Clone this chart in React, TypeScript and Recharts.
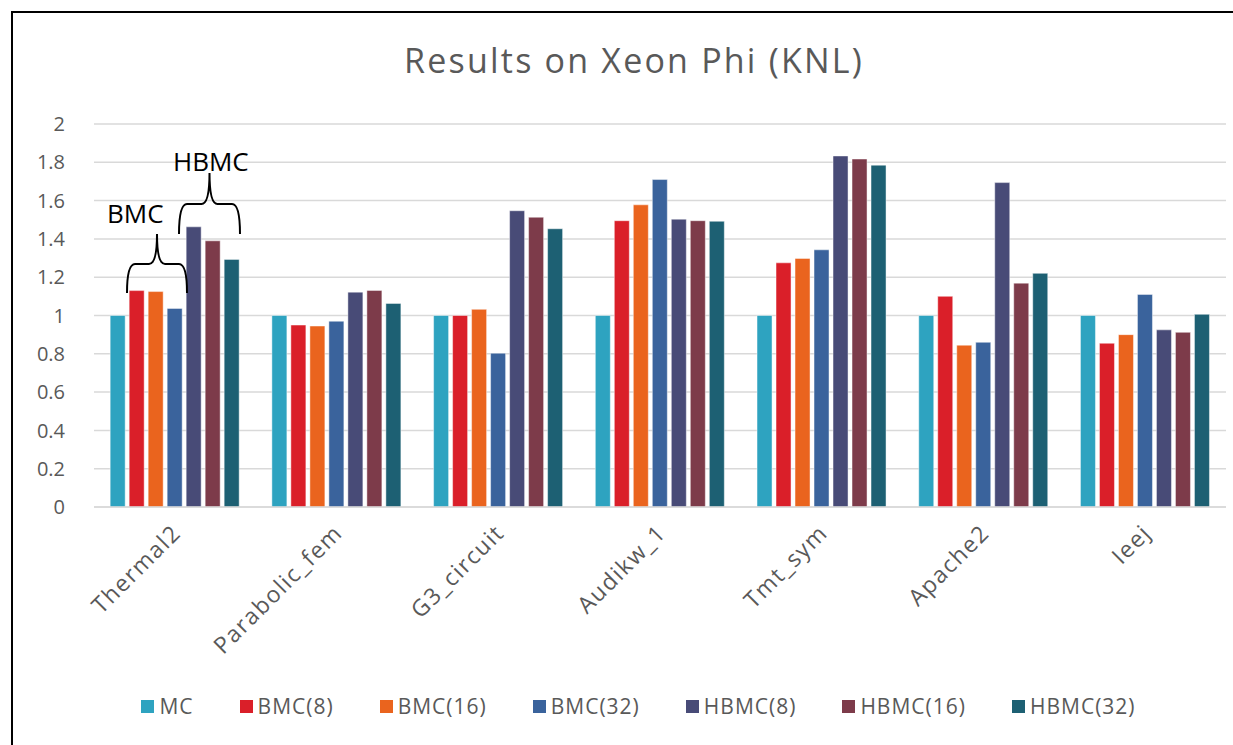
import React, { useEffect } from "react";
import {
  BarChart,
  Bar,
  XAxis,
  YAxis,
  CartesianGrid,
  Legend,
} from "recharts";

const categories = [
  "Thermal2",
  "Parabolic_fem",
  "G3_circuit",
  "Audikw_1",
  "Tmt_sym",
  "Apache2",
  "Ieej",
];

const mc = [1, 1, 1, 1, 1, 1, 1];
const bmc8 = [1.13, 0.95, 1.0, 1.495, 1.275, 1.1, 0.855];
const bmc16 = [1.125, 0.945, 1.032, 1.578, 1.298, 0.845, 0.9];
const bmc32 = [1.037, 0.97, 0.803, 1.71, 1.343, 0.86, 1.11];
const hbmc8 = [1.463, 1.122, 1.547, 1.503, 1.833, 1.694, 0.925];
const hbmc16 = [1.39, 1.131, 1.513, 1.495, 1.817, 1.169, 0.912];
const hbmc32 = [1.293, 1.063, 1.453, 1.492, 1.785, 1.22, 1.006];

const yTicks = [0, 0.2, 0.4, 0.6, 0.8, 1, 1.2, 1.4, 1.6, 1.8, 2];

const series = [
  { key: "MC", values: mc, color: "#2ea3c0" },
  { key: "BMC(8)", values: bmc8, color: "#da1f29" },
  { key: "BMC(16)", values: bmc16, color: "#ea641e" },
  { key: "BMC(32)", values: bmc32, color: "#3a639c" },
  { key: "HBMC(8)", values: hbmc8, color: "#484b77" },
  { key: "HBMC(16)", values: hbmc16, color: "#7d3b4a" },
  { key: "HBMC(32)", values: hbmc32, color: "#1d6073" },
];

const data = categories.map((name, i) => {
  const row: any = { name };
  series.forEach((s) => (row[s.key] = s.values[i]));
  return row;
});

const FONT = "'Open Sans', 'Noto Sans', sans-serif";
const GREY = "#595959";

const AngledTick = ({ x, y, payload }: any) => (
  <g transform={`translate(${x - 4},${y + 8})`}>
    <text
      textAnchor="end"
      transform="rotate(-45)"
      fontSize={23}
      letterSpacing={1.5}
      fontFamily={FONT}
      fill={GREY}
      dy="0.7em"
    >
      {payload.value}
    </text>
  </g>
);

const order = series.map((s) => s.key);

const LegendContent = ({ payload }: any) => {
  const items = [...(payload || [])].sort(
    (a: any, b: any) => order.indexOf(a.value) - order.indexOf(b.value)
  );
  return (
    <div
      style={{
        display: "flex",
        justifyContent: "center",
        alignItems: "center",
        height: 40,
        paddingLeft: 17,
        fontFamily: FONT,
        fontSize: 21,
        letterSpacing: 1,
        color: GREY,
      }}
    >
      {items.map((p: any) => (
        <span
          key={p.value}
          style={{ display: "inline-flex", alignItems: "center", margin: "0 23px" }}
        >
          <span
            style={{
              width: 13,
              height: 13,
              background: p.color,
              marginRight: 5,
              display: "inline-block",
            }}
          />
          {p.value}
        </span>
      ))}
    </div>
  );
};

function brace(x0: number, x1: number, yb: number, ym: number, yt: number) {
  const xc = (x0 + x1) / 2;
  return `M${x0},${yb} Q${x0},${ym} ${x0 + 8},${ym} L${xc - 8},${ym} Q${xc},${ym} ${xc},${yt} Q${xc},${ym} ${xc + 8},${ym} L${x1 - 8},${ym} Q${x1},${ym} ${x1},${yb}`;
}

export default function App() {
  useEffect(() => {
    document.documentElement.style.overflow = "hidden";
    document.body.style.overflow = "hidden";
  }, []);

  return (
    <div
      style={{
        position: "fixed",
        left: 8,
        top: 8,
        width: 1225,
        height: 737,
        overflow: "hidden",
        background: "#fff",
      }}
    >
      <div
        style={{
          position: "absolute",
          left: 0,
          width: 1252,
          top: 29,
          textAlign: "center",
          fontFamily: FONT,
          fontSize: 34,
          letterSpacing: 2.2,
          color: GREY,
        }}
      >
        Results on Xeon Phi (KNL)
      </div>
      <div style={{ position: "absolute", left: 0, top: 0 }}>
        <BarChart
          width={1225}
          height={737}
          data={data}
          margin={{ top: 116, right: 7, left: 26, bottom: 0 }}
          barCategoryGap="10%"
          barGap={4}
        >
          <CartesianGrid vertical={false} stroke="#d9d9d9" strokeWidth={1.5} />
          <XAxis
            dataKey="name"
            height={198}
            tickLine={false}
            axisLine={{ stroke: "#d9d9d9", strokeWidth: 1.5 }}
            tick={<AngledTick />}
            interval={0}
          />
          <YAxis
            width={60}
            domain={[0, 2]}
            ticks={yTicks}
            axisLine={false}
            tickLine={false}
            tickSize={0}
            tickMargin={29}
            tick={{ fontSize: 20, fontFamily: FONT, fill: GREY }}
          />
          <Legend
            verticalAlign="bottom"
            content={<LegendContent />}
            wrapperStyle={{ height: 40, top: 678 }}
          />
          {series.map((s) => (
            <Bar
              key={s.key}
              dataKey={s.key}
              fill={s.color}
              stroke="#ffffff"
              strokeWidth={0.75}
              strokeOpacity={0.6}
              isAnimationActive={false}
            />
          ))}
        </BarChart>
      </div>
      <svg
        width={1225}
        height={737}
        style={{ position: "absolute", left: 0, top: 0, pointerEvents: "none" }}
      >
        <line x1={4} y1={4} x2={1225} y2={4} stroke="#000" strokeWidth={2} />
        <line x1={4} y1={3} x2={4} y2={737} stroke="#000" strokeWidth={2} />
        <text x={99} y={215} fontSize={26} fontFamily={FONT} fill="#000">
          BMC
        </text>
        <text x={165} y={163} fontSize={26} fontFamily={FONT} fill="#000">
          HBMC
        </text>
        <path d={brace(119, 179, 285, 256, 226)} fill="none" stroke="#000" strokeWidth={2} />
        <path d={brace(171, 232, 226, 196, 165)} fill="none" stroke="#000" strokeWidth={2} />
      </svg>
    </div>
  );
}
